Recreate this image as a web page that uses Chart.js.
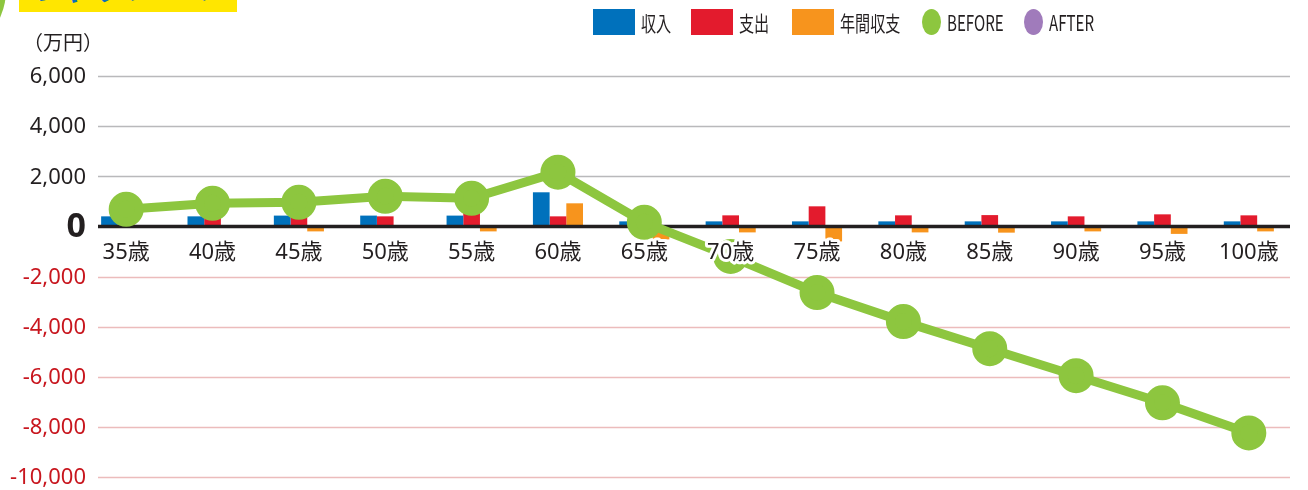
<!DOCTYPE html>
<html lang="ja">
<head>
<meta charset="utf-8">
<script src="https://cdn.jsdelivr.net/npm/chart.js@4"></script>
<style>
  html, body { margin: 0; padding: 0; background: #fff; }
  #wrap { position: relative; width: 1308px; height: 490px; overflow: hidden;
    font-family: "Noto Sans", "Noto Sans CJK JP", sans-serif; color: #231f20; }
  #chart { position: absolute; left: 0; top: 0; }
  .title { position: absolute; left: 19px; top: 0; width: 218px; height: 12px;
    background: #ffe600; overflow: hidden; }
  .title span { position: absolute; left: 4px; bottom: 10px; font: bold 34px "Noto Sans CJK JP";
    color: #0a6fba; white-space: nowrap; line-height: 34px; }
  .deco { position: absolute; left: -126px; top: -76px; width: 132px; height: 132px;
    border-radius: 50%; background: #8dc63f; }
  .unit { position: absolute; left: 23px; top: 27px; font: 20px "Noto Sans CJK JP"; }
  .leg { position: absolute; top: 9px; height: 26px; display: flex; align-items: center; }
  .leg i { display: block; height: 26px; margin-right: 6px; }
  .leg span { display: inline-block; font: 21px "Noto Sans CJK JP"; transform: scaleX(0.72);
    transform-origin: left center; white-space: nowrap; }
</style>
</head>
<body>
<div id="wrap">
  <canvas id="chart" width="1308" height="490"></canvas>
  <div class="deco"></div>
  <div class="title"><span>キャッシュフロー表</span></div>
  <div class="unit">（万円）</div>
  <div id="legend"></div>
</div>
<script>
// categories
const ages = ['35歳', '40歳', '45歳', '50歳', '55歳', '60歳', '65歳', '70歳', '75歳', '80歳', '85歳', '90歳', '95歳', '100歳'];

// series (万円)
const income  = [400, 400, 430, 430, 430, 1360, 200, 200, 200, 200, 200, 200, 200, 200];
const expense = [380, 360, 600, 400, 680, 400, 720, 440, 800, 440, 450, 400, 480, 440];
const annual  = [-20, -20, -200, 0, -200, 920, -520, -240, -600, -240, -250, -200, -300, -200];
const before  = [680, 920, 960, 1200, 1120, 2160, 160, -1200, -2640, -3800, -4880, -5960, -7040, -8240];
const after   = [null, null, null, null, null, null, null, null, null, null, null, null, null, null];

// y axis
const yMin = -10000;
const yMax = 6000;
const yStep = 2000;

const names  = ['収入', '支出', '年間収支', 'BEFORE', 'AFTER'];
const colors = ['#0071bc', '#e31b2d', '#f7941d', '#8dc63f', '#a07bbb'];

const dark = '#231f20';
const red = '#c8161e';
const font = '"Noto Sans", "Noto Sans CJK JP", sans-serif';
const gridInset = 15; // gridlines start a little right of the plot edge

// html legend
const legendLeft = [593, 691, 792, 922, 1024];
const legend = document.getElementById('legend');
names.forEach((n, i) => {
  const item = document.createElement('div');
  item.className = 'leg';
  item.style.left = legendLeft[i] + 'px';
  const mark = document.createElement('i');
  mark.style.background = colors[i];
  if (i < 3) {
    mark.style.width = '42px';
  } else {
    mark.style.width = '19px';
    mark.style.borderRadius = '50%';
  }
  const txt = document.createElement('span');
  txt.textContent = n;
  item.appendChild(mark);
  item.appendChild(txt);
  legend.appendChild(item);
});

function hline(ctx, x0, x1, y, color, w) {
  ctx.save();
  ctx.strokeStyle = color;
  ctx.lineWidth = w;
  ctx.beginPath();
  ctx.moveTo(x0, y);
  ctx.lineTo(x1, y);
  ctx.stroke();
  ctx.restore();
}

// grid + y labels, zero line above the bars, x labels with white halo on top
const overlay = {
  id: 'overlay',
  beforeDatasetsDraw(chart) {
    const { ctx, chartArea } = chart;
    const ys = chart.scales.y;
    ctx.save();
    ctx.textAlign = 'right';
    ctx.textBaseline = 'middle';
    ys.ticks.forEach(t => {
      const y = ys.getPixelForValue(t.value);
      if (t.value !== 0) {
        hline(ctx, chartArea.left + gridInset, chartArea.right - 2, Math.round(y) + 0.5,
          t.value > 0 ? '#b9b9bb' : '#ecbcbc', 1.5);
        ctx.font = '22px ' + font;
      } else {
        ctx.font = 'bold 34px ' + font;
      }
      ctx.fillStyle = t.value < 0 ? red : dark;
      ctx.fillText(t.value.toLocaleString('en-US'), chartArea.left + 3, y + 1);
    });
    ctx.restore();
  },
  afterDatasetDraw(chart, args) {
    if (args.index !== 0) return;
    const { ctx, chartArea } = chart;
    const y = chart.scales.y.getPixelForValue(0);
    hline(ctx, chartArea.left + gridInset, chartArea.right - 2, y, dark, 3.5);
  },
  afterDatasetsDraw(chart) {
    const { ctx } = chart;
    const xs = chart.scales.x;
    const y = chart.scales.y.getPixelForValue(0) + 26;
    ctx.save();
    ctx.font = '22px ' + font;
    ctx.textAlign = 'center';
    ctx.textBaseline = 'middle';
    ctx.lineJoin = 'round';
    ages.forEach((a, i) => {
      const x = xs.getPixelForValue(i);
      ctx.strokeStyle = '#fff';
      ctx.lineWidth = 6;
      ctx.strokeText(a, x, y);
      ctx.fillStyle = dark;
      ctx.fillText(a, x, y);
    });
    ctx.restore();
  }
};

const barOpts = { categoryPercentage: 0.58, barPercentage: 1, order: 1 };

new Chart(document.getElementById('chart'), {
  type: 'bar',
  data: {
    labels: ages,
    datasets: [
      { label: names[0], data: income, backgroundColor: colors[0], ...barOpts },
      { label: names[1], data: expense, backgroundColor: colors[1], ...barOpts },
      { label: names[2], data: annual, backgroundColor: colors[2], ...barOpts },
      {
        type: 'line', label: names[3], data: before, order: 0,
        borderColor: colors[3], backgroundColor: colors[3],
        borderWidth: 9, pointRadius: 13, pointHoverRadius: 13, tension: 0
      },
      {
        type: 'line', label: names[4], data: after, order: 0,
        borderColor: colors[4], backgroundColor: colors[4],
        borderWidth: 9, pointRadius: 13, tension: 0
      }
    ]
  },
  options: {
    responsive: false,
    animation: false,
    layout: { autoPadding: false, padding: { top: 76, bottom: 13, right: 16, left: 0 } },
    plugins: {
      legend: { display: false },
      tooltip: { enabled: false }
    },
    scales: {
      x: {
        grid: { display: false, drawTicks: false },
        border: { display: false },
        ticks: { display: false },
        afterFit: s => { s.height = 0; }
      },
      y: {
        min: yMin,
        max: yMax,
        border: { display: false },
        grid: { display: false, drawTicks: false },
        ticks: { stepSize: yStep, display: false },
        afterFit: s => { s.width = 83; }
      }
    }
  },
  plugins: [overlay]
});
</script>
</body>
</html>
